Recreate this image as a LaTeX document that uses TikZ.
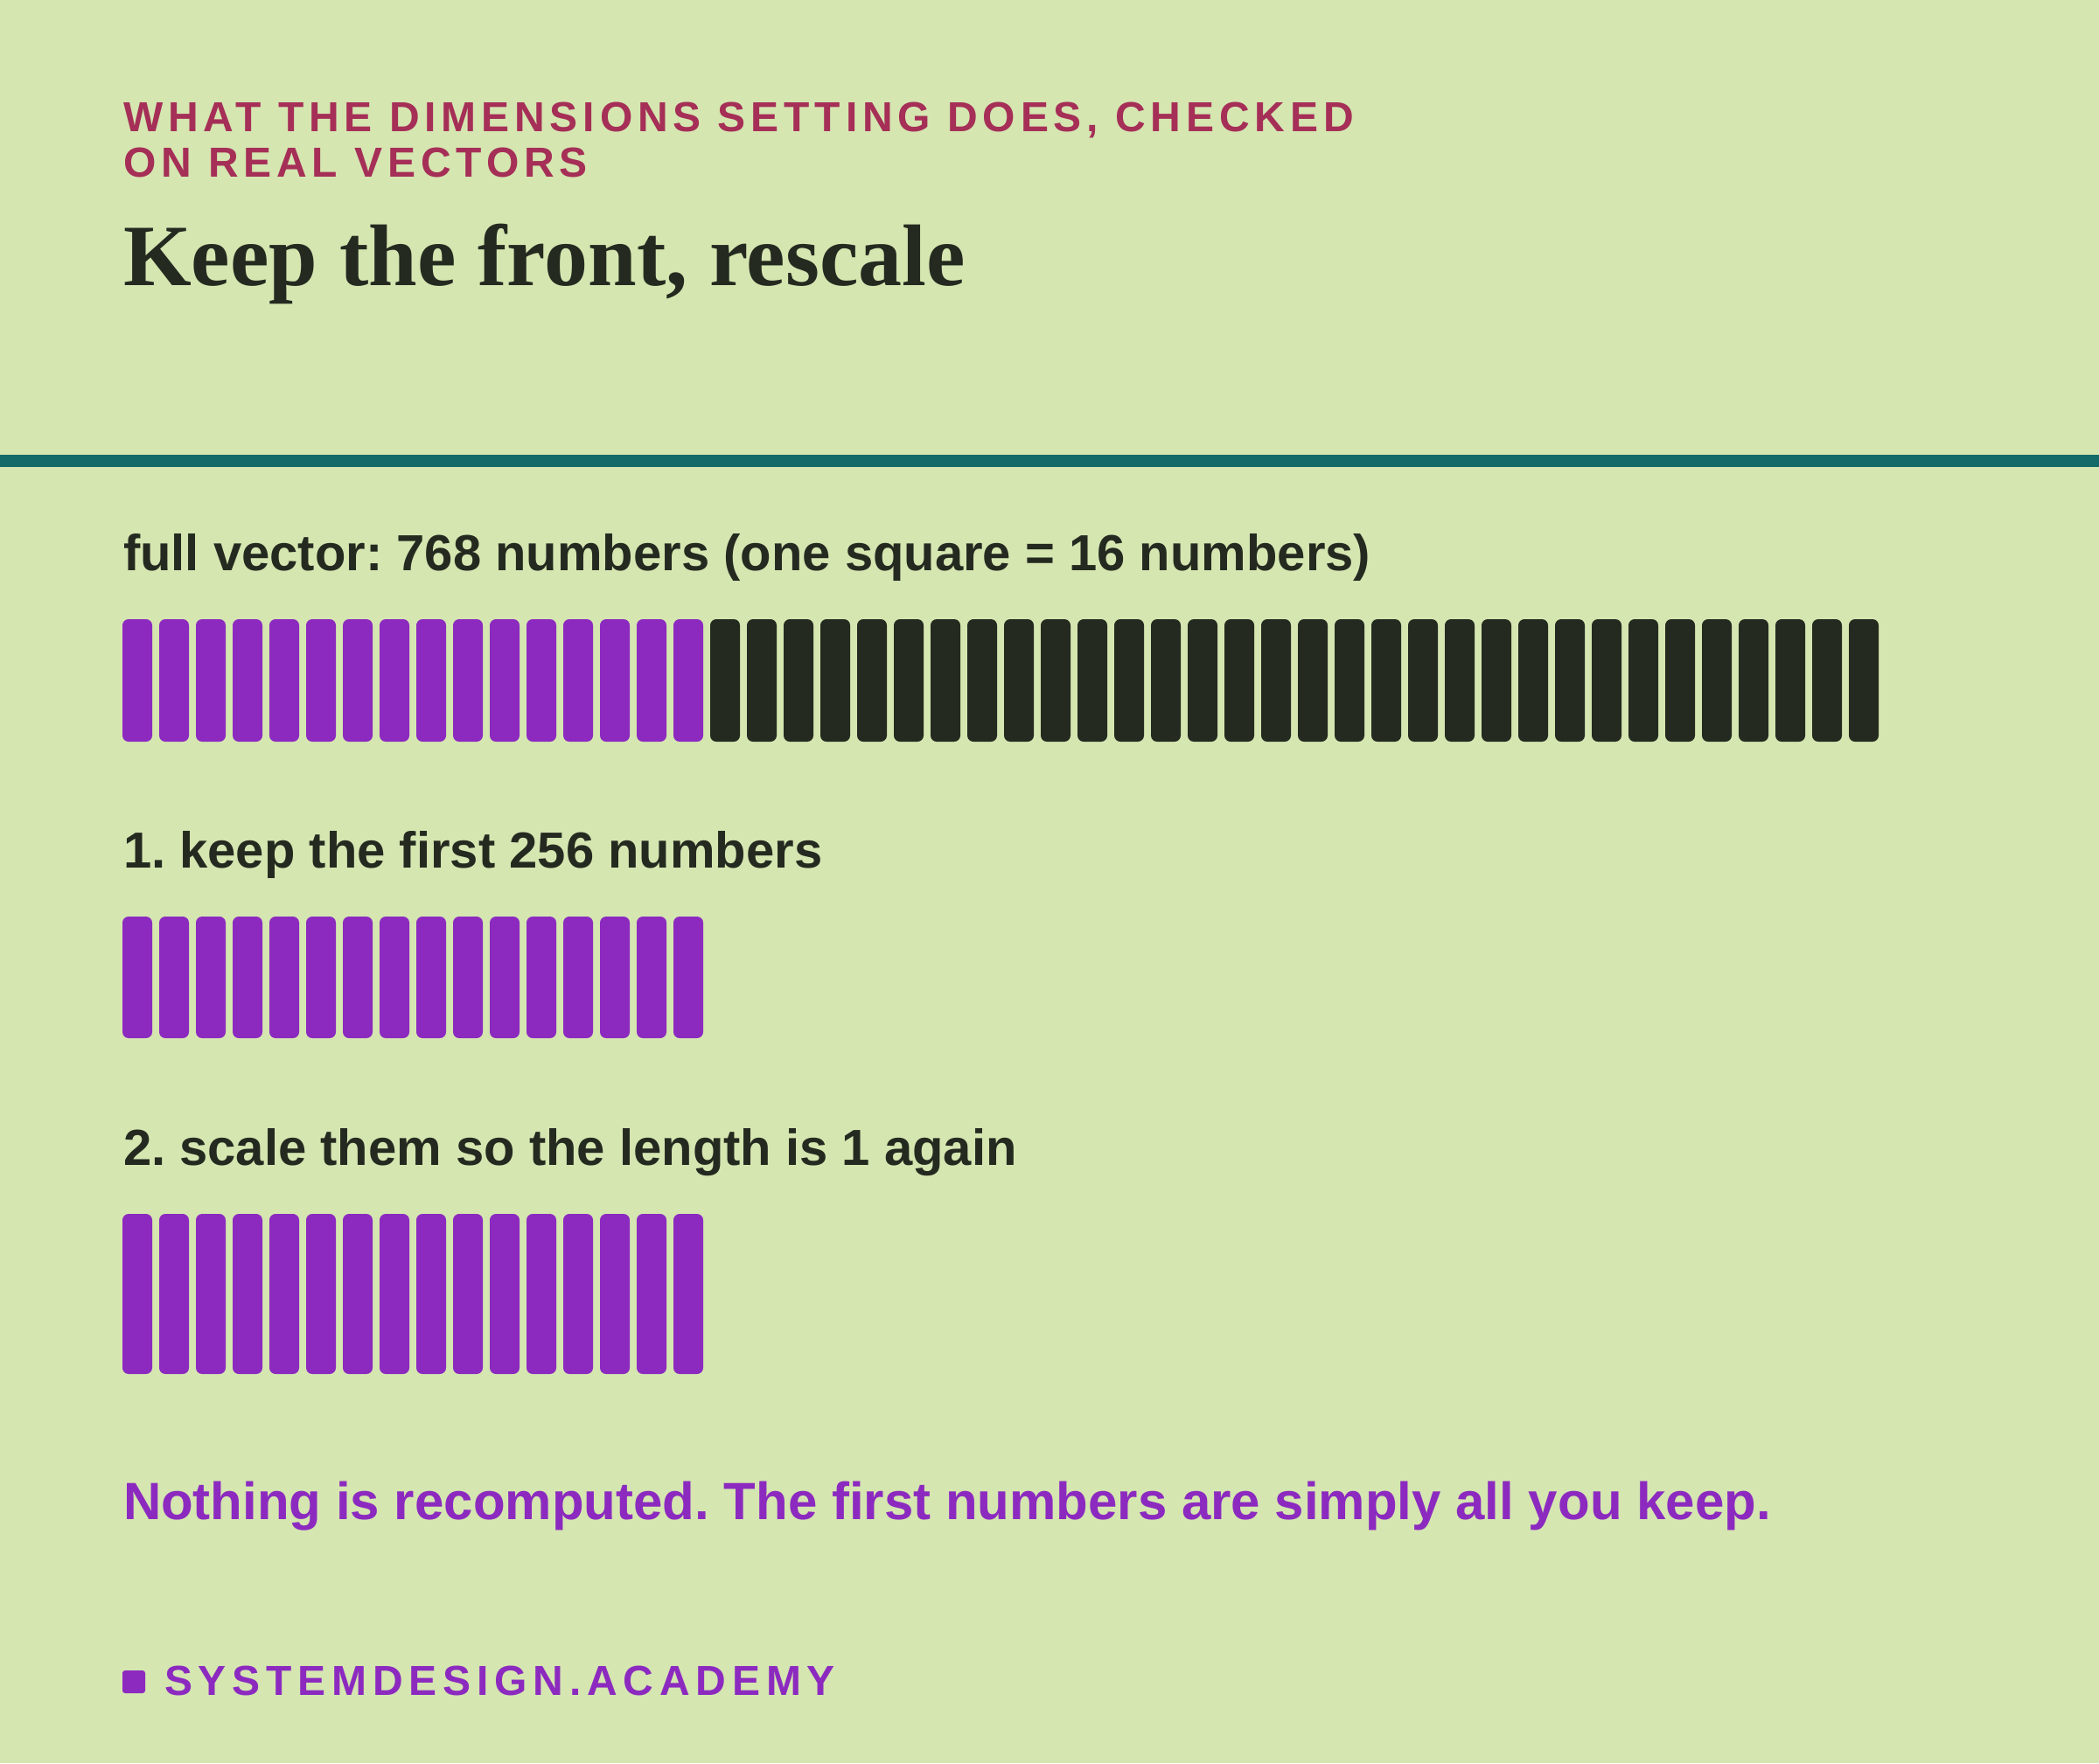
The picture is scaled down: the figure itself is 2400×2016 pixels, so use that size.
\documentclass[tikz,border=0pt]{standalone}
\usepackage{fontspec}
\setmainfont{Liberation Sans}
\newfontfamily\titlefont{Liberation Serif}
\newfontfamily\eyefont{Liberation Sans}[LetterSpace=12.2]
\newfontfamily\footfont{Liberation Sans}[LetterSpace=14.2]
\definecolor{bg}{HTML}{D5E6B1}
\definecolor{crimson}{HTML}{A52F57}
\definecolor{ink}{HTML}{252A20}
\definecolor{teal}{HTML}{146A69}
\definecolor{vpurple}{HTML}{8C2AC0}
\frenchspacing
\tikzset{
  txt/.style={anchor=base west, inner sep=0pt, outer sep=0pt},
  eyebrow/.style={txt, text=crimson, font=\eyefont\bfseries\fontsize{48}{52}\selectfont},
  label/.style={txt, text=ink, font=\bfseries\fontsize{58}{64}\selectfont},
  bar/.style={anchor=north west, inner sep=0pt, outer sep=0pt, minimum width=34pt, rounded corners=7pt},
}
\begin{document}
\begin{tikzpicture}[x=1pt,y=-1pt]
\fill[bg] (0,0) rectangle (2400,2016);
\useasboundingbox (0,0) rectangle (2400,2016);
% header
\node[eyebrow] (eye1) at (141,150.7) {WHAT THE DIMENSIONS SETTING DOES, CHECKED};
\node[eyebrow] (eye2) at (141,202.7) {ON REAL VECTORS};
\node[txt, text=ink, font=\titlefont\bfseries\fontsize{100}{110}\selectfont] (title) at (141,326.7) {Keep the front, rescale};
% rule
\coordinate (ruleL) at (0,527);
\coordinate (ruleR) at (2400,527);
\draw[teal, line width=14pt] (ruleL) -- (ruleR);
% full vector
\node[label] (lab0) at (141,652.7) {full vector: 768 numbers (one square = 16 numbers)};
\foreach \i in {0,...,47}{
  \pgfmathsetmacro{\bx}{140+42*\i}
  \ifnum\i<16
    \node[bar, fill=vpurple, minimum height=140pt] (fa\i) at (\bx,708) {};
  \else
    \node[bar, fill=ink, minimum height=140pt] (fa\i) at (\bx,708) {};
  \fi
}
% step 1
\node[label] (lab1) at (141,992.7) {1. keep the first 256 numbers};
\foreach \i in {0,...,15}{
  \pgfmathsetmacro{\bx}{140+42*\i}
  \node[bar, fill=vpurple, minimum height=139pt] (ka\i) at (\bx,1048) {};
}
% step 2
\node[label] (lab2) at (141,1332.5) {2. scale them so the length is 1 again};
\foreach \i in {0,...,15}{
  \pgfmathsetmacro{\bx}{140+42*\i}
  \node[bar, fill=vpurple, minimum height=183pt] (sa\i) at (\bx,1388) {};
}
% conclusion
\node[txt, text=vpurple, font=\bfseries\fontsize{60}{66}\selectfont] (concl) at (141,1737.3) {Nothing is recomputed. The first numbers are simply all you keep.};
% footer
\node[anchor=north west, inner sep=0pt, outer sep=0pt, minimum width=26pt, minimum height=26pt, rounded corners=3pt, fill=vpurple] (footsq) at (140,1910) {};
\node[txt, text=vpurple, font=\footfont\bfseries\fontsize{48}{52}\selectfont] (foot) at (188,1938.3) {SYSTEMDESIGN.ACADEMY};
\end{tikzpicture}
\end{document}
